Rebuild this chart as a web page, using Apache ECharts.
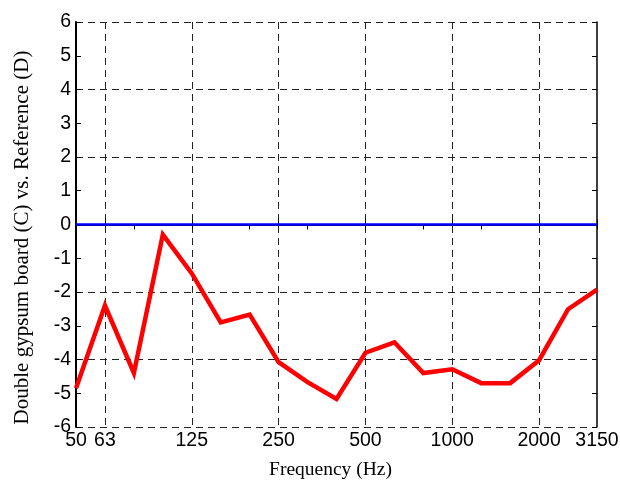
<!DOCTYPE html>
<html>
<head>
<meta charset="utf-8">
<script src="https://cdn.jsdelivr.net/npm/echarts@6/dist/echarts.min.js"></script>
<style>
html, body { margin: 0; padding: 0; background: #fff; }
#chart { width: 620px; height: 481px; }
</style>
</head>
<body>
<div id="chart"></div>
<script>
// 1/3 octave bands
var bands = ['50', '63', '80', '100', '125', '160', '200', '250', '315', '400', '500',
    '630', '800', '1000', '1250', '1600', '2000', '2500', '3150'];
var shownLabels = ['50', '63', '125', '250', '500', '1000', '2000', '3150'];
var gridBands = ['63', '125', '250', '500', '1000', '2000'];
var difference = [-4.85, -2.4, -4.4, -0.3, -1.45, -2.9, -2.67, -4.08, -4.67, -5.17, -3.8,
    -3.49, -4.4, -4.29, -4.7, -4.7, -4.02, -2.51, -1.93];
var reference = [0, 0, 0, 0, 0, 0, 0, 0, 0, 0, 0, 0, 0, 0, 0, 0, 0, 0, 0];

var myChart = echarts.init(document.getElementById('chart'));

var dash = { type: [7, 5], color: '#222', width: 1 };

option = {
    backgroundColor: '#fff',
    animation: false,
    grid: { left: 76, right: 23, top: 22, bottom: 54, outerBoundsMode: 'none' },
    xAxis: [
        {
            type: 'category',
            data: bands,
            boundaryGap: false,
            name: 'Frequency (Hz)',
            nameLocation: 'middle',
            nameGap: 33,
            nameTextStyle: { fontFamily: 'Liberation Serif', fontSize: 19.5, color: '#000', padding: [0, 12, 0, 0] },
            axisLine: { lineStyle: { color: '#000', width: 2 } },
            axisTick: { inside: true, length: 5, lineStyle: { color: '#000' } },
            axisLabel: {
                interval: function (i, v) { return shownLabels.indexOf(v) >= 0; },
                margin: 4,
                fontFamily: 'Liberation Sans',
                fontSize: 19.5,
                color: '#000'
            },
            splitLine: {
                show: true,
                interval: function (i, v) { return gridBands.indexOf(v) >= 0; },
                lineStyle: dash
            }
        },
        {
            type: 'category',
            data: bands,
            boundaryGap: false,
            position: 'top',
            axisLine: { lineStyle: { color: '#000', width: 1.5 } },
            axisTick: { inside: true, length: 5, lineStyle: { color: '#000' } },
            axisLabel: { show: false },
            splitLine: { show: false }
        }
    ],
    yAxis: [
        {
            type: 'value',
            min: -6,
            max: 6,
            interval: 1,
            name: 'Double gypsum board (C) vs. Reference (D)',
            nameLocation: 'middle',
            nameGap: 43,
            nameTextStyle: { fontFamily: 'Liberation Serif', fontSize: 21, color: '#000', padding: [0, 26, 0, 0] },
            axisLine: { show: true, lineStyle: { color: '#000', width: 2 } },
            axisTick: { show: true, inside: true, length: 5, lineStyle: { color: '#000' } },
            axisLabel: {
                margin: 5,
                fontFamily: 'Liberation Sans',
                fontSize: 19.5,
                color: '#000'
            },
            splitLine: { show: false }
        },
        {
            type: 'value',
            min: -6,
            max: 6,
            interval: 2,
            position: 'right',
            axisLine: { show: true, lineStyle: { color: '#000', width: 1.5 } },
            axisTick: { show: false },
            axisLabel: { show: false },
            splitLine: { show: true, lineStyle: dash }
        },
        {
            type: 'value',
            min: -6,
            max: 6,
            interval: 1,
            position: 'right',
            axisLine: { show: false },
            axisTick: { show: true, inside: true, length: 5, lineStyle: { color: '#000' } },
            axisLabel: { show: false },
            splitLine: { show: false }
        }
    ],
    series: [
        {
            name: 'Reference',
            type: 'line',
            data: reference,
            symbol: 'none',
            lineStyle: { color: '#0000ff', width: 2.5 },
            z: 3
        },
        {
            name: 'Double gypsum board',
            type: 'line',
            data: difference,
            symbol: 'none',
            lineStyle: { color: '#ff0000', width: 4.5, join: 'miter' },
            z: 4
        }
    ]
};

myChart.setOption(option);
</script>
</body>
</html>
